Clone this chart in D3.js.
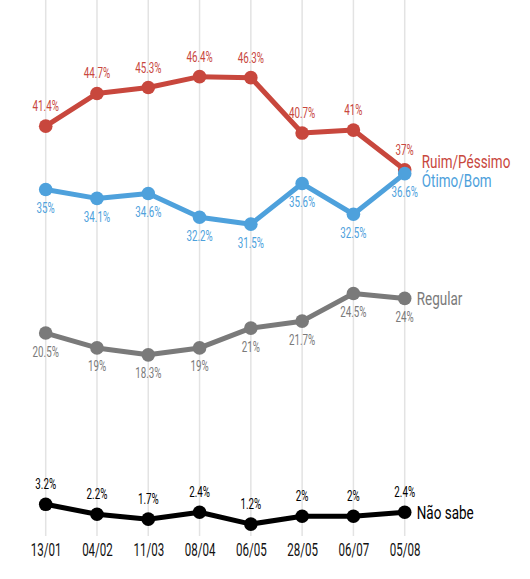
<!DOCTYPE html>
<html>
<head>
<meta charset="utf-8">
<script src="https://cdn.jsdelivr.net/npm/d3@7"></script>
<style>
  html, body { margin: 0; padding: 0; background: #fff; }
  svg { display: block; }
  text { font-family: Roboto, "Noto Sans", sans-serif; }
</style>
</head>
<body>
<div id="chart"></div>
<script>
const categories = ["13/01", "04/02", "11/03", "08/04", "06/05", "28/05", "06/07", "05/08"];
const ruimPessimo = [41.4, 44.7, 45.3, 46.4, 46.3, 40.7, 41, 37];
const otimoBom = [35, 34.1, 34.6, 32.2, 31.5, 35.6, 32.5, 36.6];
const regular = [20.5, 19, 18.3, 19, 21, 21.7, 24.5, 24];
const naoSabe = [3.2, 2.2, 1.7, 2.4, 1.2, 2, 2, 2.4];
const seriesNames = ["Ruim/Péssimo", "Ótimo/Bom", "Regular", "Não sabe"];

const W = 530, H = 579;
const svg = d3.select("#chart").append("svg").attr("width", W).attr("height", H);

const x = d3.scalePoint().domain(categories).range([45.7, 404.7]);
const y = d3.scaleLinear().domain([0, 50]).range([536, 41]);

const series = [
  { name: seriesNames[0], values: ruimPessimo, color: "#c8473d", labelPos: "above", nameDx: 17, nameDy: -2 },
  { name: seriesNames[1], values: otimoBom, color: "#4ea1dc", labelPos: "below", nameDx: 17, nameDy: 13 },
  { name: seriesNames[2], values: regular, color: "#7a7a7a", labelPos: "below", nameDx: 12, nameDy: 7 },
  { name: seriesNames[3], values: naoSabe, color: "#000000", labelPos: "above", nameDx: 12, nameDy: 6.5 }
];

// vertical gridlines
svg.append("g").selectAll("line").data(categories).join("line")
  .attr("x1", d => x(d)).attr("x2", d => x(d))
  .attr("y1", 0).attr("y2", y(0))
  .attr("stroke", "#e3e3e3").attr("stroke-width", 1.5);

// x axis labels
const xAxis = svg.append("g").attr("transform", `translate(0, ${y(0)})`)
  .call(d3.axisBottom(x).tickSize(0).tickPadding(0));
xAxis.select(".domain").remove();
xAxis.selectAll("text")
  .attr("y", 0).attr("dy", 0)
  .attr("transform", `translate(0,20) scale(0.66,1)`)
  .attr("fill", "#111").attr("font-size", 17.5)
  .style("font-family", "Roboto, sans-serif");

const line = d3.line().x((d, i) => x(categories[i])).y(d => y(d));

const drawOrder = [3, 2, 0, 1];
drawOrder.forEach(k => {
  const s = series[k];
  const g = svg.append("g");
  g.append("path").datum(s.values)
    .attr("d", line).attr("fill", "none")
    .attr("stroke", s.color).attr("stroke-width", 5)
    .attr("stroke-linejoin", "round");
  g.selectAll("circle").data(s.values).join("circle")
    .attr("cx", (d, i) => x(categories[i])).attr("cy", d => y(d))
    .attr("r", 6.8).attr("fill", s.color);
});

series.forEach(s => {
  const g = svg.append("g");
  g.selectAll("text.v").data(s.values).join("text")
    .attr("class", "v")
    .attr("text-anchor", "middle")
    .attr("transform", (d, i) => `translate(${x(categories[i])},${y(d) + (s.labelPos === "above" ? -15 : 23.5)}) scale(0.7,1)`)
    .attr("fill", s.color).attr("font-size", 14)
    .text(d => d + "%");
  const last = s.values.length - 1;
  g.append("text")
    .attr("transform", `translate(${x(categories[last]) + s.nameDx},${y(s.values[last]) + s.nameDy}) scale(0.71,1)`)
    .attr("fill", s.color).attr("font-size", 19)
    .text(s.name);
});
</script>
</body>
</html>
